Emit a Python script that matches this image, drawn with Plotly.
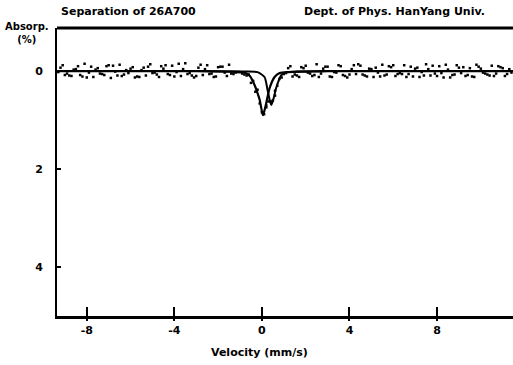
import plotly.graph_objects as go

# ---- data ----
dot_velocity = [
    -9.3, -9.1, -8.9, -8.7, -8.5, -8.3, -8.1, -7.9, -7.7, -7.5,
    -7.3, -7.1, -6.9, -6.7, -6.5, -6.3, -6.1, -5.9, -5.7, -5.5,
    -5.3, -5.1, -4.9, -4.7, -4.5, -4.3, -4.1, -3.9, -3.7, -3.5,
    -3.3, -3.1, -2.9, -2.7, -2.5, -2.3, -2.1, -1.9, -1.7, -1.5,
    -1.3, -1.1, -0.9, -0.7, -0.5, -0.3, -0.1, 0.1, 0.3, 0.5,
    0.7, 0.9, 1.1, 1.3, 1.5, 1.7, 1.9, 2.1, 2.3, 2.5,
    2.7, 2.9, 3.1, 3.3, 3.5, 3.7, 3.9, 4.1, 4.3, 4.5,
    4.7, 4.9, 5.1, 5.3, 5.5, 5.7, 5.9, 6.1, 6.3, 6.5,
    6.7, 6.9, 7.1, 7.3, 7.5, 7.7, 7.9, 8.1, 8.3, 8.5,
    8.7, 8.9, 9.1, 9.3, 9.5, 9.7, 9.9, 10.1, 10.3, 10.5,
    10.7, 10.9, 11.1, 11.3,
]
dot_absorp = [
    0.02, -0.12, 0.05, 0.10, -0.04, 0.08, -0.15, 0.03, 0.12, -0.06,
    0.06, -0.10, 0.14, 0.01, -0.13, 0.07, 0.04, -0.08, 0.11, -0.02,
    0.09, -0.14, 0.03, 0.12, -0.05, 0.06, -0.11, 0.02, 0.10, -0.16,
    0.04, 0.13, -0.07, 0.08, -0.12, 0.05, 0.11, -0.09, 0.03, -0.13,
    0.06, 0.02, 0.05, 0.09, 0.24, 0.42, 0.66, 0.88, 0.62, 0.60,
    0.30, 0.13, 0.04, -0.10, 0.07, 0.12, -0.06, 0.03, 0.10, -0.14,
    0.05, -0.09, 0.11, 0.02, -0.12, 0.08, 0.13, -0.04, 0.06, -0.11,
    0.09, -0.05, 0.12, 0.03, -0.13, 0.07, -0.08, 0.10, 0.04, -0.12,
    0.06, 0.11, -0.07, 0.02, -0.14, 0.09, 0.05, -0.10, 0.13, -0.03,
    0.08, -0.12, 0.04, 0.10, -0.06, 0.12, -0.09, 0.03, 0.07, -0.11,
    0.05, -0.08, 0.10, -0.04,
]
dot2_velocity = [
    -9.2, -8.8, -8.4, -8.0, -7.6, -7.2, -6.8, -6.4, -6.0, -5.6,
    -5.2, -4.8, -4.4, -4.0, -3.6, -3.2, -2.8, -2.4, -2.0, -1.6,
    -1.2, -0.8, -0.4, 0.0, 0.2, 0.4, 0.6, 0.8, 1.2, 1.6,
    2.0, 2.4, 2.8, 3.2, 3.6, 4.0, 4.4, 4.8, 5.2, 5.6,
    6.0, 6.4, 6.8, 7.2, 7.6, 8.0, 8.4, 8.8, 9.2, 9.6,
    10.0, 10.4, 10.8, 11.2,
]
dot2_absorp = [
    -0.07, 0.09, -0.10, 0.13, -0.03, 0.08, -0.11, 0.10, -0.05, 0.12,
    -0.09, 0.07, -0.12, 0.11, -0.04, 0.09, -0.13, 0.06, -0.08, 0.10,
    0.03, 0.07, 0.20, 0.84, 0.70, 0.62, 0.40, 0.16, -0.06, 0.09,
    -0.11, 0.08, -0.05, 0.12, -0.10, 0.07, -0.14, 0.11, -0.07, 0.09,
    -0.12, 0.06, -0.09, 0.12, -0.04, 0.10, -0.13, 0.07, -0.08, 0.11,
    -0.05, 0.09, -0.10, 0.06,
]
dot3_velocity = [
    -9.0, -8.6, -8.2, -7.8, -7.4, -7.0, -6.6, -6.2, -5.8, -5.4,
    -5.0, -4.6, -4.2, -3.8, -3.4, -3.0, -2.6, -2.2, -1.8, -1.4,
    -1.0, -0.6, -0.2, 0.2, 0.6, 1.0, 1.4, 1.8, 2.2, 2.6,
    3.0, 3.4, 3.8, 4.2, 4.6, 5.0, 5.4, 5.8, 6.2, 6.6,
    7.0, 7.4, 7.8, 8.2, 8.6, 9.0, 9.4, 9.8, 10.2, 10.6,
    11.0, 11.4,
]
dot3_absorp = [
    0.08, -0.03, 0.11, -0.09, 0.05, -0.12, 0.09, -0.02, 0.13, -0.07,
    0.04, -0.10, 0.08, -0.15, 0.06, 0.10, -0.04, 0.12, -0.09, 0.05,
    0.02, 0.07, 0.38, 0.74, 0.50, 0.06, 0.11, -0.08, 0.05, 0.12,
    -0.09, 0.03, 0.10, -0.12, 0.07, -0.04, 0.11, -0.10, 0.06, 0.12,
    -0.05, 0.09, -0.11, 0.04, 0.13, -0.07, 0.08, -0.13, 0.05, 0.10,
    -0.06, 0.03,
]

# fitted component curves
fit1_velocity = [-9.4, -3.0, -1.5, -0.8, -0.55, -0.33, -0.2, -0.1, 0.0, 0.05, 0.12, 0.2,
                 0.35, 0.58, 0.81, 1.2, 2.0, 3.0, 11.5]
fit1_absorp = [0.0, 0.0, 0.01, 0.03, 0.10, 0.29, 0.45, 0.59, 0.82, 0.90, 0.80, 0.65,
               0.35, 0.12, 0.04, 0.02, 0.01, 0.0, 0.0]
fit2_velocity = [-9.4, -3.0, -1.0, -0.2, 0.12, 0.26, 0.36, 0.43, 0.52, 0.66, 0.89,
                 1.17, 1.6, 3.0, 11.5]
fit2_absorp = [0.0, 0.0, 0.01, 0.02, 0.12, 0.39, 0.60, 0.69, 0.58, 0.33, 0.08,
               0.02, 0.01, 0.0, 0.0]

x_ticks = [-8, -4, 0, 4, 8]
y_ticks = [0, 2, 4]

FONT = "DejaVu Sans, sans-serif"

fig = go.Figure()
for xs, ys in ((dot_velocity, dot_absorp), (dot2_velocity, dot2_absorp),
               (dot3_velocity, dot3_absorp)):
    fig.add_trace(go.Scatter(x=xs, y=ys, mode="markers",
                             marker=dict(symbol="square", size=2.5, color="black"),
                             hoverinfo="skip"))
fig.add_trace(go.Scatter(x=fit1_velocity, y=fit1_absorp, mode="lines",
                         line=dict(color="black", width=2.2, shape="spline", smoothing=0.6)))
fig.add_trace(go.Scatter(x=fit2_velocity, y=fit2_absorp, mode="lines",
                         line=dict(color="black", width=2, shape="spline", smoothing=0.6)))
# invisible trace to carry the outside-tick overlay axis
fig.add_trace(go.Scatter(x=[x_ticks[0]], y=[y_ticks[0]], xaxis="x2", mode="markers",
                         marker=dict(opacity=0), hoverinfo="skip"))

fig.update_layout(
    width=513, height=365,
    margin=dict(l=57, r=0, t=28, b=49),
    paper_bgcolor="white", plot_bgcolor="white",
    showlegend=False,
    font=dict(family=FONT, size=11, color="black", weight="bold"),
    xaxis=dict(range=[-9.36, 11.47], tickvals=x_ticks, ticktext=[str(v) for v in x_ticks],
               showgrid=False, zeroline=False, showline=True, linecolor="black", linewidth=3,
               ticks="inside", ticklen=9, tickwidth=1.5, tickcolor="black", automargin=False,
               ticklabelstandoff=2, tickfont=dict(size=11, family=FONT, weight="bold")),
    xaxis2=dict(range=[-9.36, 11.47], overlaying="x", side="bottom", tickvals=x_ticks,
                showticklabels=False, showgrid=False, zeroline=False, showline=False,
                ticks="outside", ticklen=4, tickwidth=1.5, tickcolor="black", automargin=False),
    yaxis=dict(range=[5.0, -0.88], tickvals=y_ticks, ticktext=[str(v) for v in y_ticks],
               showgrid=False, zeroline=False, showline=True, linecolor="black", linewidth=2,
               ticks="inside", ticklen=4, tickwidth=1.5, tickcolor="black", automargin=False,
               ticklabelstandoff=10, tickfont=dict(size=11, family=FONT, weight="bold")),
    shapes=[dict(type="line", xref="paper", yref="paper", x0=0, x1=1, y0=1, y1=1,
                 line=dict(color="black", width=3))],
    annotations=[
        dict(text="Separation of 26A700", xref="paper", yref="paper", x=0.004, y=1.056,
             xanchor="left", yanchor="middle", showarrow=False,
             font=dict(size=11, family=FONT, weight="bold")),
        dict(text="Dept. of Phys. HanYang Univ.", xref="paper", yref="paper", x=0.943, y=1.056,
             xanchor="right", yanchor="middle", showarrow=False,
             font=dict(size=11, family=FONT, weight="bold")),
        dict(text="Absorp.<br>(%)", xref="paper", yref="paper", x=-0.066, y=0.983,
             xanchor="center", yanchor="middle", showarrow=False,
             font=dict(size=10, family=FONT, weight="bold")),
        dict(text="Velocity (mm/s)", xref="paper", yref="paper", x=0.445, y=-0.125,
             xanchor="center", yanchor="middle", showarrow=False,
             font=dict(size=11, family=FONT, weight="bold")),
    ],
)

fig.write_html("out.html", config={"displayModeBar": False},
               post_script="document.body.style.margin='0';document.body.style.overflow='hidden';")
